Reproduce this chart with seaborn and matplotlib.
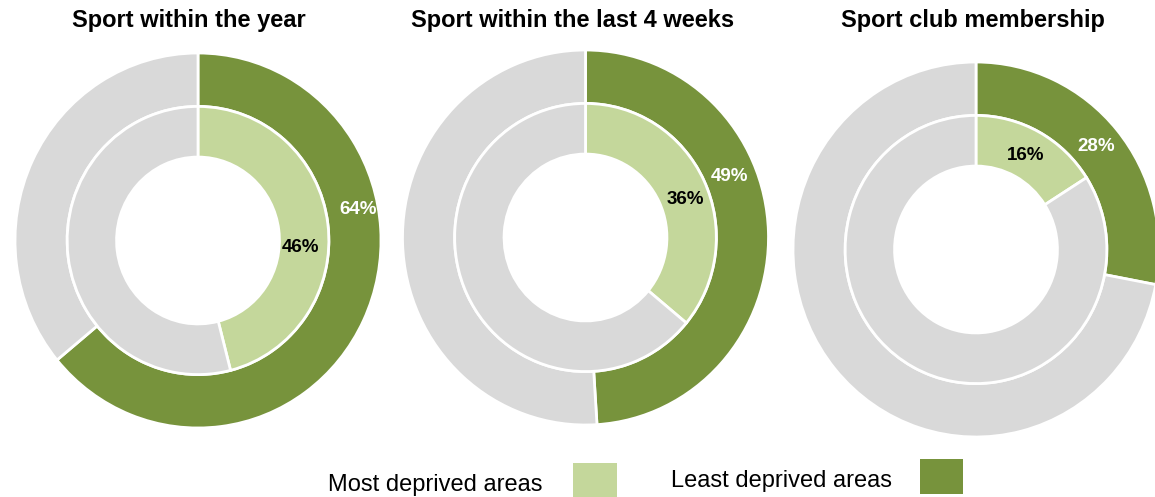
import numpy as np
import matplotlib.pyplot as plt
import seaborn as sns
from matplotlib.patches import Rectangle

sns.set_theme(style="white")
plt.rcParams["font.family"] = ["Liberation Sans", "DejaVu Sans"]

titles = ["Sport within the year", "Sport within the last 4 weeks", "Sport club membership"]
most_deprived = [46, 36, 16]
least_deprived = [64, 49, 28]
legend_labels = ["Most deprived areas", "Least deprived areas"]

light_green = "#C4D79B"
dark_green = "#77933C"
grey = "#D9D9D9"

# label placement (degrees clockwise from 12 o'clock, radius)
outer_lab = [(79.4, 0.89), (67.6, 0.85), (50.2, 0.855)]
inner_lab = [(93.6, 0.56), (69.5, 0.585), (28.7, 0.57)]

W, H = 1155, 497
fig = plt.figure(figsize=(W / 100, H / 100), dpi=100)

centers = [(198, 240.5), (585.5, 237.5), (976, 249.5)]
title_x = [189, 573, 973]
rx, ry = 183, 187.5
box = 200

for i in range(3):
    cx, cy = centers[i]
    ax = fig.add_axes([(cx - box) / W, (H - cy - box) / H, 2 * box / W, 2 * box / H])
    ax.pie([least_deprived[i], 100 - least_deprived[i]], colors=[dark_green, grey],
           startangle=90, counterclock=False, radius=1,
           wedgeprops=dict(width=0.285, edgecolor="white", linewidth=2))
    ax.pie([most_deprived[i], 100 - most_deprived[i]], colors=[light_green, grey],
           startangle=90, counterclock=False, radius=0.715,
           wedgeprops=dict(width=0.27, edgecolor="white", linewidth=2))
    ax.set_aspect("auto")
    ax.set_xlim(-box / rx, box / rx)
    ax.set_ylim(-box / ry, box / ry)
    ax.axis("off")

    a, r = outer_lab[i]
    ax.text(r * np.sin(np.radians(a)), r * np.cos(np.radians(a)), f"{least_deprived[i]}%",
            ha="center", va="center", color="white", fontsize=13.5, fontweight="bold")
    a, r = inner_lab[i]
    ax.text(r * np.sin(np.radians(a)), r * np.cos(np.radians(a)), f"{most_deprived[i]}%",
            ha="center", va="center", color="black", fontsize=13.5, fontweight="bold")

    fig.text(title_x[i] / W, 1 - 27 / H, titles[i], ha="center", va="baseline",
             fontsize=17, fontweight="bold", color="black")

# legend
fig.text(328 / W, 1 - 491 / H, legend_labels[0], ha="left", va="baseline", fontsize=17, color="black")
fig.patches.append(Rectangle((573 / W, 1 - 497 / H), 44 / W, 34 / H, transform=fig.transFigure,
                             facecolor=light_green, edgecolor="none"))
fig.text(671 / W, 1 - 487 / H, legend_labels[1], ha="left", va="baseline", fontsize=17, color="black")
fig.patches.append(Rectangle((920 / W, 1 - 494 / H), 43 / W, 35 / H, transform=fig.transFigure,
                             facecolor=dark_green, edgecolor="none"))

fig.savefig("out.png", dpi=100)
